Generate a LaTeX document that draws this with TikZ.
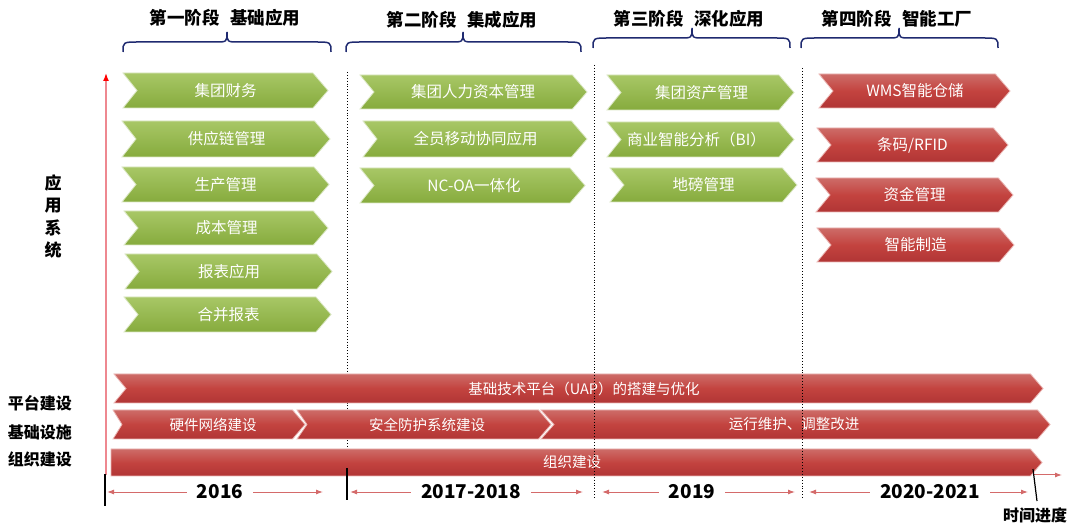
\documentclass[tikz,border=0pt]{standalone}
\usepackage{fontspec}
\setmainfont{Noto Sans CJK SC}
\usetikzlibrary{arrows.meta}
\definecolor{gtop}{HTML}{A8C766}
\definecolor{gbot}{HTML}{86AB3D}
\definecolor{gedge}{HTML}{DCE8C6}
\definecolor{rtop}{HTML}{CD6C68}
\definecolor{rmid}{HTML}{C3433F}
\definecolor{rbot}{HTML}{B13535}
\definecolor{redge}{HTML}{EBB7B5}
\definecolor{navy}{HTML}{1F2A70}
\definecolor{yline}{HTML}{D46A6A}
\definecolor{axisc}{HTML}{EE8890}
\tikzset{
  gchev/.style={top color=gtop,bottom color=gbot,draw=gedge,line width=0.8pt},
  rchev/.style={top color=rtop,bottom color=rbot,middle color=rmid,draw=redge,line width=0.8pt},
  rbar/.style={rchev},
  gchev text/.style={text=white,font=\fontsize{15.5}{18}\selectfont,inner sep=0pt},
  rchev text/.style={text=white,font=\fontsize{15.5}{18}\selectfont,inner sep=0pt},
  rbar text/.style={text=white,font=\fontsize{14.5}{17}\selectfont,inner sep=0pt},
  phase/.style={font=\bfseries\fontsize{17.5}{20}\selectfont,inner sep=0pt},
  sidelabel/.style={font=\bfseries\fontsize{16}{19}\selectfont,inner sep=0pt},
  yearlabel/.style={font=\bfseries\fontsize{19}{22}\selectfont,inner xsep=10pt,inner ysep=0pt},
  bracel/.style={draw=navy,line width=1.5pt},
  sep/.style={dotted,line width=0.9pt,black},
  yarr/.style={draw=yline,line width=1pt,-{Latex[length=7pt,width=5pt]}},
  tick/.style={draw=black,line width=1.2pt},
}
% chevron: name, style, x1, x2, ytop, ybot, notch, text x, text
\newcommand\chev[9]{%
  \path[#2] (#3,#5) -- ({#4-0.43*(#6-#5)},#5) -- (#4,{(#5+#6)/2}) -- ({#4-0.43*(#6-#5)},#6) -- (#3,#6) -- ({#3+#7},{(#5+#6)/2}) -- cycle;
  \node[#2 text] (#1) at (#8,{(#5+#6)/2}) {#9};
}
% brace: x1, xm, x2, ytip, ymid, yend
\newcommand\phasebrace[6]{%
  \draw[bracel] (#1,#6) .. controls (#1,#5) .. ({#1+16},#5) -- ({#2-12},#5) .. controls (#2,#5) .. (#2,#4)
     .. controls (#2,#5) .. ({#2+12},#5) -- ({#3-16},#5) .. controls (#3,#5) .. (#3,#6);
}
\begin{document}
\begin{tikzpicture}[x=1pt,y=-1pt]
\useasboundingbox (0,0) rectangle (1080,529);
\fill[white] (0,0) rectangle (1080,529);

% phase headers
\node[phase] (h1) at (225,18) {第一阶段\hspace{0.6em}基础应用};
\node[phase] (h2) at (462,20) {第二阶段\hspace{0.6em}集成应用};
\node[phase] (h3) at (689,19) {第三阶段\hspace{0.6em}深化应用};
\node[phase] (h4) at (897,19) {第四阶段\hspace{0.6em}智能工厂};
\phasebrace{123}{227}{331}{32}{42}{52}
\phasebrace{346}{463}{581}{32}{42}{52}
\phasebrace{593}{692}{790}{28}{38}{48}
\phasebrace{801}{899}{998}{28}{38}{48}

% side labels
\node[sidelabel,align=center,font=\bfseries\fontsize{17}{22.5}\selectfont] (s0) at (53,216.5) {应\\用\\系\\统};
\node[sidelabel] (s1) at (40,403) {平台建设};
\node[sidelabel] (s2) at (40,432) {基础设施};
\node[sidelabel] (s3) at (40,459) {组织建设};

% vertical axis
\coordinate (ax0) at (106,475);
\coordinate (ax1) at (106,73);
\draw[draw=axisc,line width=1.5pt,-{Latex[length=8pt,width=6pt,color=red]}] (ax0) -- (ax1);

% separator behind the bars
\draw[sep] (347,72) -- (347,468);

% column 1
\chev{a1}{gchev}{123}{328}{73}{108}{14}{225.5}{集团财务}
\chev{a2}{gchev}{122}{330}{121}{157}{14}{226.5}{供应链管理}
\chev{a3}{gchev}{122}{329}{167}{202}{14}{225.5}{生产管理}
\chev{a4}{gchev}{124}{328}{211}{245}{14}{226.5}{成本管理}
\chev{a5}{gchev}{125}{332}{254}{289}{14}{229}{报表应用}
\chev{a6}{gchev}{124}{331}{297}{332}{14}{228.5}{合并报表}
% column 2
\chev{b1}{gchev}{360}{587}{75}{109}{14}{473}{集团人力资本管理}
\chev{b2}{gchev}{363}{587}{121}{157}{14}{475.5}{全员移动协同应用}
\chev{b3}{gchev}{360}{585}{168}{203}{14}{474}{NC-OA一体化}
% column 3
\chev{c1}{gchev}{607}{794}{75}{110}{14}{701.5}{集团资产管理}
\chev{c2}{gchev}{607}{794}{122}{157}{14}{696.5}{商业智能分析（BI）}
\chev{c3}{gchev}{610}{797}{168}{202}{14}{703.5}{地磅管理}
% column 4
\chev{d1}{rchev}{819}{1010}{74}{108}{14}{915}{WMS智能仓储}
\chev{d2}{rchev}{817}{1008}{128}{162}{14}{912.5}{条码/RFID}
\chev{d3}{rchev}{816}{1013}{178}{212}{14}{914.5}{资金管理}
\chev{d4}{rchev}{817}{1014}{228}{262}{14}{915.5}{智能制造}

% bottom bars
\chev{p1}{rbar}{114}{1043}{374}{403}{12}{584}{基础技术平台（UAP）的搭建与优化}
\chev{i1}{rbar}{113}{305}{410}{439}{9}{213}{硬件网络建设}
\chev{i2}{rbar}{297}{551}{410}{439}{10}{427}{安全防护系统建设}
\chev{i3}{rbar}{541}{1050}{410}{439}{13}{794}{运行维护、调整改进}
\chev{o1}{rbar}{111}{1042}{449}{476}{0}{572}{组织建设}

% separators over the bars
\draw[sep] (594,65) -- (594,498);
\draw[sep] (802,68) -- (802,498);

% ticks
\draw[tick] (105,474) -- (105,506);
\draw[tick] (347,468) -- (347,500);

% years
\node[yearlabel] (y1) at (220,492) {2016};
\node[yearlabel] (y2) at (471,492) {2017-2018};
\node[yearlabel] (y3) at (692,492) {2019};
\node[yearlabel] (y4) at (930,492) {2020-2021};
\coordinate (y1l) at (107,492); \coordinate (y1r) at (323,492);
\coordinate (y2l) at (350,492); \coordinate (y2r) at (583,492);
\coordinate (y3l) at (602,492); \coordinate (y3r) at (795,492);
\coordinate (y4l) at (809,492); \coordinate (y4r) at (1028,492);
\draw[yarr] (y1) -- (y1l); \draw[yarr] (y1) -- (y1r);
\draw[yarr] (y2) -- (y2l); \draw[yarr] (y2) -- (y2r);
\draw[yarr] (y3) -- (y3l); \draw[yarr] (y3) -- (y3r);
\draw[yarr] (y4) -- (y4l); \draw[yarr] (y4) -- (y4r);
\coordinate (t1) at (1033,475); \coordinate (t2) at (1062,475);
\draw[yarr] (t1) -- (t2);

% time label
\node[sidelabel] (tl) at (1035,515) {时间进度};
\coordinate (tk1) at (1033,469); \coordinate (tk2) at (1037,501);
\draw[draw=black,line width=1.2pt] (tk1) -- (tk2);
\end{tikzpicture}
\end{document}
